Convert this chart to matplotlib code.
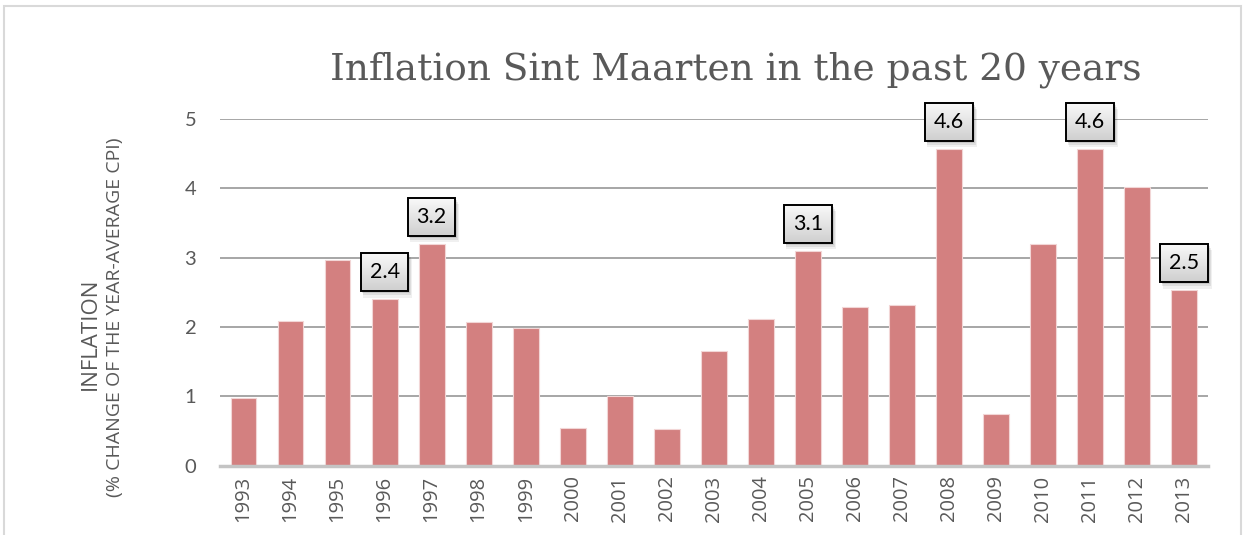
import numpy as np
import matplotlib
matplotlib.use("Agg")
import matplotlib.pyplot as plt
from matplotlib.patches import Rectangle
from matplotlib.colors import LinearSegmentedColormap

years = ["1993", "1994", "1995", "1996", "1997", "1998", "1999", "2000", "2001", "2002",
         "2003", "2004", "2005", "2006", "2007", "2008", "2009", "2010", "2011", "2012", "2013"]
inflation = [0.97, 2.09, 2.97, 2.40, 3.20, 2.07, 1.98, 0.54, 1.00, 0.53,
             1.65, 2.11, 3.10, 2.29, 2.32, 4.57, 0.74, 3.20, 4.57, 4.02, 2.53]
labeled_years = ["1996", "1997", "2005", "2008", "2011", "2013"]
yticks = [0, 1, 2, 3, 4, 5]

title = "Inflation Sint Maarten in the past 20 years"
ylabel_line1 = "INFLATION"
ylabel_line2 = "(% CHANGE OF THE YEAR-AVERAGE CPI)"

BAR_COLOR = "#D38080"
TEXT_GRAY = "#595959"

W, H = 1247, 535
fig = plt.figure(figsize=(W / 100, H / 100), dpi=100)
fig.patch.set_facecolor("white")
ax = fig.add_axes([0.1764, 0.1295, 0.7921, 0.6481])

x = np.arange(len(years))
ax.bar(x, inflation, width=0.55, color=BAR_COLOR, edgecolor="#F2D6D6", linewidth=0.8, zorder=3)

ax.set_xlim(-0.5, len(years) - 0.5)
ax.set_ylim(0, 5)
ax.set_yticks(yticks)
ax.set_yticklabels([str(t) for t in yticks], fontsize=14.5, color=TEXT_GRAY, family="Lato")
ax.set_xticks(x)
ax.set_xticklabels(years, rotation=90, fontsize=14.5, color=TEXT_GRAY, family="Open Sans")
ax.tick_params(axis="y", length=0, pad=17)
ax.tick_params(axis="x", length=0, pad=7)
for s in ["top", "right", "left"]:
    ax.spines[s].set_visible(False)
ax.spines["bottom"].set_color("#C4C4C4")
ax.spines["bottom"].set_linewidth(2.5)
ax.spines["bottom"].set_zorder(4)
ax.yaxis.grid(True, color="#A6A6A6", linewidth=1.4, zorder=1)
ax.set_axisbelow(True)

# y-axis title (two lines)
fig.text(90 / W, 1 - 334 / H, ylabel_line1, rotation=90, ha="center", va="center",
         fontsize=16.0, color=TEXT_GRAY, family="Open Sans")
fig.text(115 / W, 1 - 317 / H, ylabel_line2, rotation=90, ha="center", va="center",
         fontsize=14.0, color=TEXT_GRAY, family="Open Sans")

# data label boxes
box_w = 1.01
box_h = 0.55
gap = 0.115
grad = np.linspace(0, 1, 64).reshape(-1, 1)
cmap = LinearSegmentedColormap.from_list("g", ["#FAFAFA", "#CFCFCF"])
for yr in labeled_years:
    i = years.index(yr)
    v = inflation[i]
    x0 = i - box_w / 2
    y0 = v + gap
    for k, a in enumerate([0.10, 0.08, 0.06]):
        d = 0.03 + k * 0.03
        ax.add_patch(Rectangle((x0 + 0.02 + d * 0.3, y0 - d), box_w + d * 0.4, box_h,
                               facecolor="black", edgecolor="none", alpha=a,
                               zorder=5, clip_on=False))
    ax.imshow(grad, extent=(x0, x0 + box_w, y0, y0 + box_h), cmap=cmap, aspect="auto",
              origin="upper", zorder=6, clip_on=False)
    ax.add_patch(Rectangle((x0, y0), box_w, box_h, facecolor="none", edgecolor="black",
                           linewidth=1.4, zorder=7, clip_on=False))
    ax.text(i, y0 + box_h / 2, f"{v:.1f}", ha="center", va="center", fontsize=15.5,
            family="Lato", color="black", zorder=8, clip_on=False)

ax.set_xlim(-0.5, len(years) - 0.5)
ax.set_ylim(0, 5)

fig.text(736 / W, 1 - 80 / H, title, ha="center", va="baseline", fontsize=27,
         family="DejaVu Serif", color=TEXT_GRAY)

fig.patches.append(Rectangle((4 / W, -0.02), (1241 - 4) / W, 1 - 6 / H + 0.02,
                             transform=fig.transFigure, facecolor="none",
                             edgecolor="#D9D9D9", linewidth=1.5))

fig.savefig("out.png", dpi=100)
